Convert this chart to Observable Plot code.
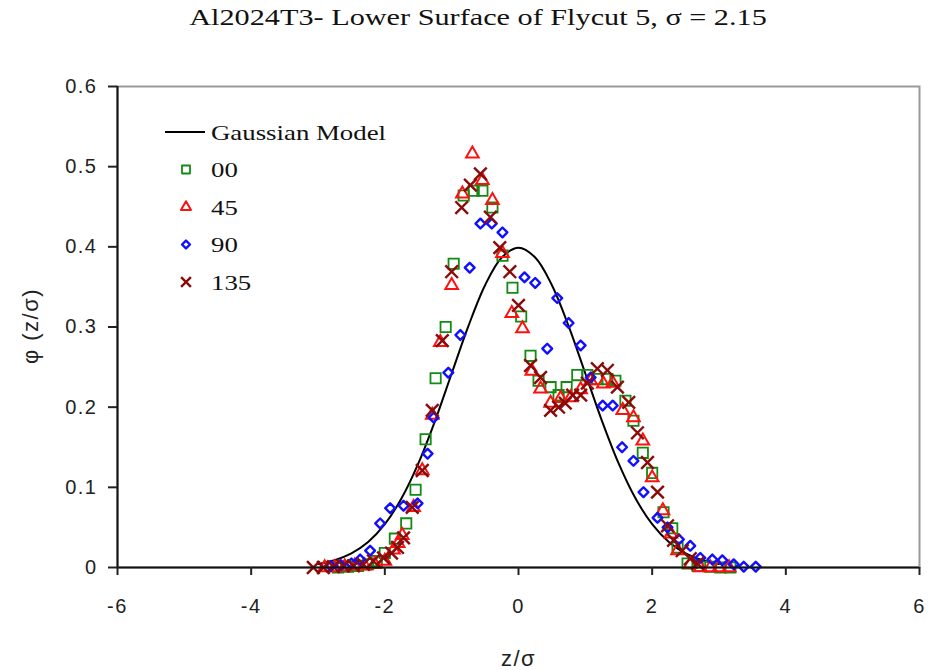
<!DOCTYPE html>
<html>
<head>
<meta charset="utf-8">
<script src="https://cdn.jsdelivr.net/npm/d3@7"></script>
<script src="https://cdn.jsdelivr.net/npm/@observablehq/plot@0.6"></script>
<style>
  html, body { margin: 0; padding: 0; background: #fff; }
  #wrap { position: relative; width: 934px; height: 670px; overflow: hidden; }
  #title { position: absolute; top: 4px; left: 478px; white-space: nowrap;
           transform: translateX(-50%) scaleX(1.26); transform-origin: 50% 0;
           font-family: "Liberation Serif", "Times New Roman", serif; font-size: 24px; color: #111; }
  #chart { position: absolute; top: 50px; left: 0; }
  #legend { position: absolute; top: 0; left: 0; pointer-events: none; }
</style>
</head>
<body>
<div id="wrap">
  <div id="title">Al2024T3- Lower Surface of Flycut 5, σ = 2.15</div>
  <div id="chart"></div>
  <svg id="legend" width="934" height="670"></svg>
</div>
<script>
// ---- data ----
const xTicks = [-6, -4, -2, 0, 2, 4, 6];
const yTicks = [0, 0.1, 0.2, 0.3, 0.4, 0.5, 0.6];
const seriesNames = ["Gaussian Model", "00", "45", "90", "135"];
const xLabel = "z/σ";
const yLabel = "φ (z/σ)";

const gaussX = [-3, -2.75, -2.5, -2.25, -2, -1.75, -1.5, -1.25, -1, -0.75, -0.5, -0.25, 0,
                0.25, 0.5, 0.75, 1, 1.25, 1.5, 1.75, 2, 2.25, 2.5, 2.75, 3];
const gaussY = [0.0044, 0.0091, 0.0175, 0.0317, 0.0540, 0.0863, 0.1295, 0.1826, 0.2420, 0.3011, 0.3521, 0.3867, 0.3989,
                0.3867, 0.3521, 0.3011, 0.2420, 0.1826, 0.1295, 0.0863, 0.0540, 0.0317, 0.0175, 0.0091, 0.0044];

const x00 = [-2.70,-2.55,-2.40,-2.25,-2.12,-2.00,-1.85,-1.68,-1.54,-1.39,-1.24,-1.09,-0.97,-0.82,-0.67,-0.54,-0.39,-0.24,-0.09,0.04,
             0.18,0.30,0.48,0.60,0.72,0.88,1.03,1.18,1.33,1.45,1.60,1.72,1.86,2.00,2.17,2.30,2.38,2.53,2.68,2.87,3.02,3.17];
const y00 = [0.000,0.001,0.002,0.004,0.008,0.018,0.036,0.055,0.097,0.160,0.236,0.300,0.379,0.464,0.470,0.470,0.449,0.389,0.349,0.313,
             0.264,0.233,0.225,0.215,0.225,0.240,0.240,0.235,0.235,0.233,0.208,0.183,0.143,0.118,0.069,0.049,0.025,0.005,0.002,0.001,0.000,0.000];

const x45 = [-2.90,-2.75,-2.60,-2.45,-2.30,-2.15,-2.00,-1.87,-1.80,-1.74,-1.57,-1.44,-1.29,-1.17,-1.00,-0.84,-0.69,-0.54,-0.39,-0.24,
             -0.10,0.06,0.20,0.33,0.48,0.63,0.78,0.93,1.08,1.27,1.41,1.56,1.72,1.86,2.00,2.16,2.28,2.38,2.57,2.72,2.87,3.00,3.15];
const y45 = [0.000,0.000,0.001,0.002,0.002,0.004,0.008,0.022,0.030,0.040,0.075,0.121,0.190,0.281,0.352,0.466,0.516,0.483,0.458,0.392,
             0.317,0.298,0.245,0.223,0.205,0.211,0.212,0.222,0.233,0.229,0.230,0.196,0.187,0.158,0.112,0.071,0.042,0.021,0.004,0.000,0.000,0.000,0.000];

const x90 = [-2.81,-2.66,-2.50,-2.37,-2.22,-2.07,-1.92,-1.72,-1.51,-1.36,-1.27,-1.05,-0.87,-0.73,-0.57,-0.40,-0.24,0.09,0.25,0.43,
             0.58,0.75,0.93,1.08,1.26,1.41,1.55,1.72,1.87,2.08,2.23,2.40,2.57,2.72,2.90,3.05,3.22,3.37,3.55];
const y90 = [0.002,0.003,0.005,0.010,0.021,0.055,0.074,0.077,0.080,0.142,0.187,0.243,0.290,0.374,0.429,0.429,0.418,0.362,0.355,0.273,
             0.336,0.305,0.277,0.237,0.202,0.202,0.150,0.133,0.094,0.062,0.050,0.035,0.027,0.012,0.010,0.009,0.004,0.001,0.001];

const x135 = [-3.07,-2.92,-2.77,-2.62,-2.47,-2.32,-2.17,-2.02,-1.90,-1.81,-1.72,-1.59,-1.44,-1.29,-1.14,-1.00,-0.85,-0.72,-0.57,-0.42,
              -0.28,-0.13,0.00,0.18,0.33,0.48,0.60,0.70,0.81,0.93,1.03,1.18,1.33,1.48,1.65,1.78,1.93,2.08,2.23,2.32,2.45,2.57,2.68];
const y135 = [0.000,0.000,0.001,0.002,0.002,0.004,0.008,0.012,0.018,0.025,0.037,0.075,0.121,0.196,0.283,0.369,0.449,0.477,0.491,0.437,
              0.399,0.369,0.327,0.252,0.237,0.196,0.200,0.205,0.215,0.215,0.230,0.248,0.246,0.225,0.206,0.168,0.131,0.094,0.052,0.034,0.021,0.011,0.005];

// ---- build tables ----
const zip = (xs, ys) => xs.map((x, i) => ({x, y: ys[i]}));
const gauss = zip(gaussX, gaussY);
const s00 = zip(x00, y00), s45 = zip(x45, y45), s90 = zip(x90, y90), s135 = zip(x135, y135);

const colors = {g: "#000000", s00: "#138a13", s45: "#ff1010", s90: "#1010ff", s135: "#8b0a0a"};

const H = 620;
const plot = Plot.plot({
  width: 934,
  height: H,
  marginTop: 36,
  marginBottom: 103,
  marginLeft: 117,
  marginRight: 15,
  style: {fontFamily: "'Liberation Sans', Arial, sans-serif", fontSize: "20px", letterSpacing: "1.5px", background: "white", color: "#222"},
  x: {domain: [-6, 6], label: null},
  y: {domain: [0, 0.6], label: null},
  marks: [
    Plot.frame({stroke: "#9a9a9a", strokeWidth: 2}),
    Plot.line(gauss, {x: "x", y: "y", stroke: colors.g, strokeWidth: 2, curve: "catmull-rom"}),
    Plot.dot(s00, {x: "x", y: "y", symbol: "square", r: 5.8, stroke: colors.s00, strokeWidth: 1.8, fill: "none"}),
    Plot.dot(s45, {x: "x", y: "y", symbol: "triangle", r: 4.7, stroke: colors.s45, strokeWidth: 2, fill: "none"}),
    Plot.dot(s90, {x: "x", y: "y", symbol: "diamond2", r: 4.4, stroke: colors.s90, strokeWidth: 2.4, strokeLinejoin: "round", fill: "none"}),
    Plot.dot(s135, {x: "x", y: "y", symbol: "times", r: 5.8, stroke: colors.s135, strokeWidth: 2.4}),
    Plot.ruleY([0], {stroke: "#111", strokeWidth: 2}),
    Plot.ruleX([-6], {stroke: "#111", strokeWidth: 2}),
    Plot.axisX({ticks: xTicks, tickSize: 8, tickPadding: 23, tickFormat: d => String(d), strokeWidth: 2, label: null}),
    Plot.axisY({ticks: yTicks, tickSize: 9, tickPadding: 11, tickFormat: d => d === 0 ? "0" : d.toFixed(1), strokeWidth: 2, label: null}),
    Plot.text([xLabel], {frameAnchor: "bottom", dy: 98, fontSize: 22})
  ]
});
document.getElementById("chart").appendChild(plot);

// ---- overlay: y label + legend ----
const lg = d3.select("#legend");
lg.append("text").attr("transform", "translate(38,326) rotate(-90)")
  .attr("text-anchor", "middle")
  .attr("font-family", "'Liberation Sans', Arial, sans-serif").attr("font-size", 22)
  .attr("letter-spacing", "1.5px").attr("fill", "#222").text(yLabel);

const lx = 186, tx = 211, y0 = 132, dy = 37.5;
lg.append("line").attr("x1", 165).attr("x2", 205).attr("y1", y0).attr("y2", y0)
  .attr("stroke", "#000").attr("stroke-width", 2);
const legSyms = [
  {sym: d3.symbolSquare, size: 64, color: colors.s00, w: 1.8},
  {sym: d3.symbolTriangle, size: 44, color: colors.s45, w: 2},
  {sym: d3.symbolDiamond2, size: 40, color: colors.s90, w: 2.4},
  {sym: d3.symbolTimes, size: 64, color: colors.s135, w: 2.4}
];
seriesNames.forEach((name, i) => {
  const yy = y0 + i * dy;
  if (i > 0) {
    const s = legSyms[i - 1];
    lg.append("path").attr("d", d3.symbol(s.sym, s.size)())
      .attr("transform", `translate(${lx},${yy})`)
      .attr("fill", "none").attr("stroke", s.color).attr("stroke-width", s.w).attr("stroke-linejoin", "round");
  }
  lg.append("text").attr("transform", `translate(${tx},${yy}) scale(1.22,1)`).attr("dy", "0.35em")
    .attr("font-family", "'Liberation Serif', 'Times New Roman', serif")
    .attr("font-size", 22).attr("fill", "#111").text(name);
});
</script>
</body>
</html>
